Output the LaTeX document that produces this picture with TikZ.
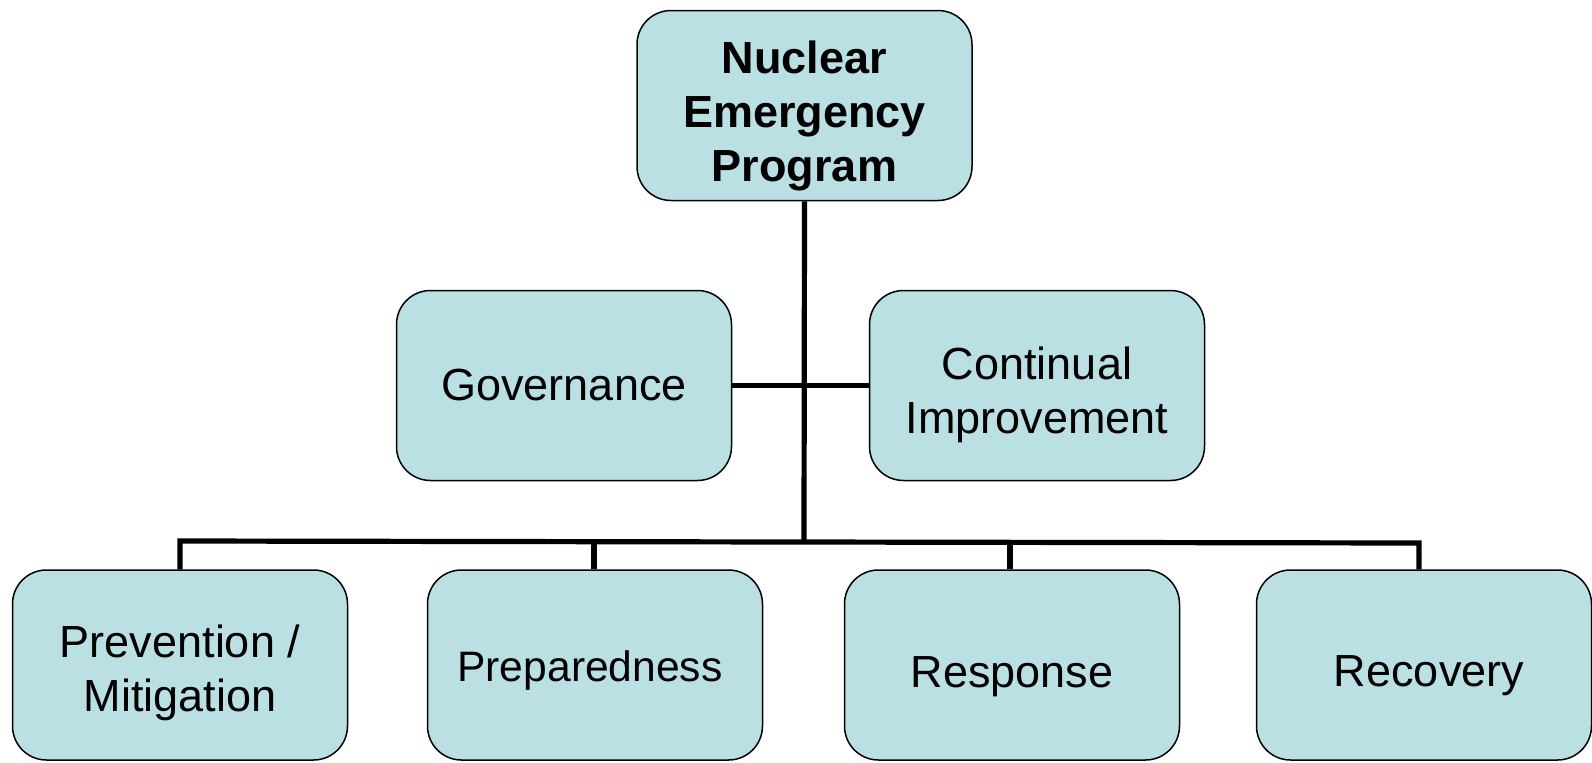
\documentclass[tikz,border=0pt]{standalone}
\usepackage{fontspec}
\setmainfont{Liberation Sans}
\definecolor{boxfill}{HTML}{BBE0E3}
\begin{document}
\begin{tikzpicture}[x=0.5pt,y=-0.5pt,
  box/.style={draw=black, line width=0.75pt, fill=boxfill, rounded corners=17pt,
    minimum width=167.5pt, minimum height=95pt, inner sep=0pt},
  lab/.style={align=center, inner sep=0pt, font=\fontsize{22.5}{27}\selectfont},
  conn/.style={draw=black, line width=2.6pt}]
\useasboundingbox (0,0) rectangle (1592,762);
\node[box, label={[lab, font=\fontsize{22.5}{27}\selectfont\bfseries, yshift=-5pt]center:{Nuclear\\Emergency\\Program}}] (top) at (804.5,105.5) {};
\node[box, label={[lab, yshift=0.5pt]center:{Governance}}] (gov) at (564,385.5) {};
\node[box, label={[lab, yshift=-4.5pt]center:{Continual\\Improvement}}] (cont) at (1037,385.5) {};
\node[box, label={[lab, yshift=-4pt]center:{Prevention /\\Mitigation}}] (prev) at (180,665) {};
\node[box, label={[lab, font=\fontsize{21.3}{25}\selectfont, yshift=-2.5pt, xshift=-2.5pt]center:{Preparedness}}] (prep) at (595,665) {};
\node[box, label={[lab, yshift=-6pt]center:{Response}}] (resp) at (1012,665) {};
\node[box, label={[lab, yshift=-5.5pt, xshift=2.5pt]center:{Recovery}}] (reco) at (1424,665) {};
\coordinate (j) at (804,541);
\coordinate (bl) at (180,541);
\coordinate (br) at (1419,543);
\coordinate (d2) at (594,541.5);
\coordinate (d3) at (1010,542.5);
\draw[conn] (gov.east) -- (cont.west);
\draw[conn] (top.south) -- (j);
\draw[conn, line join=miter] (bl |- prev.north) -- (bl) -- (br) -- (br |- reco.north);
\draw[conn] (d2) -- (d2 |- prep.north);
\draw[conn] (d3) -- (d3 |- resp.north);
\end{tikzpicture}
\end{document}
